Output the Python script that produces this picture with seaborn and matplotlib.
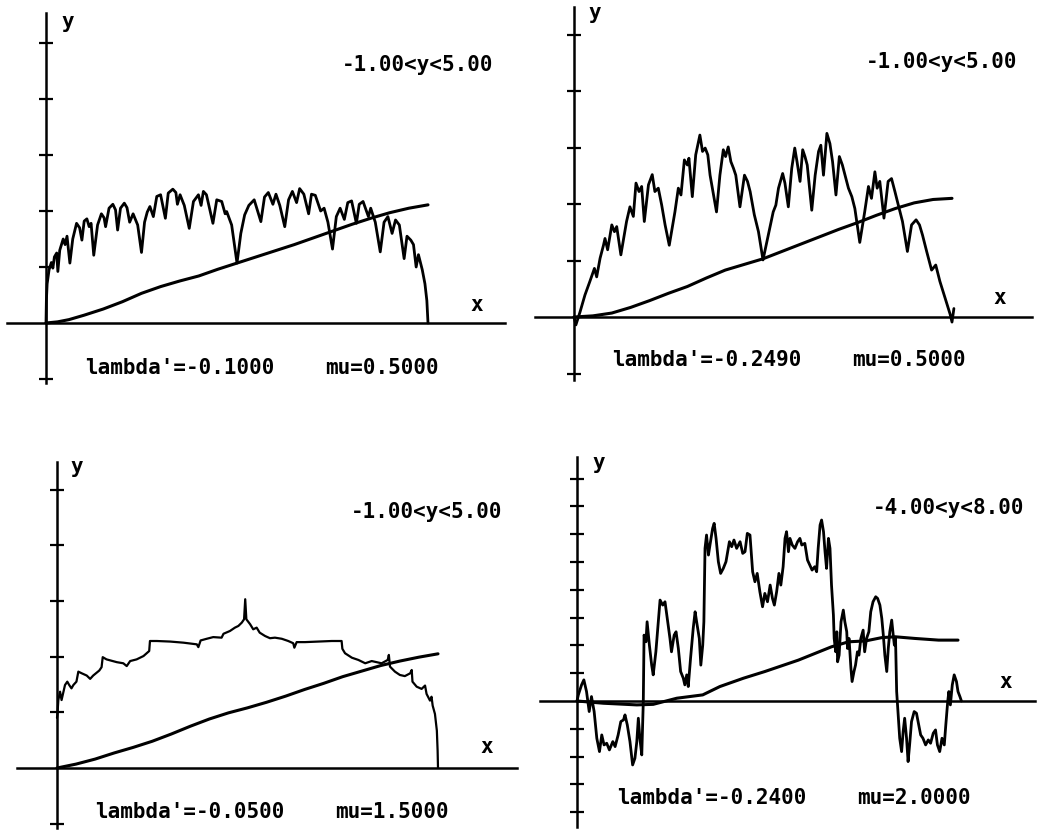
import matplotlib
matplotlib.use("Agg")
import matplotlib.pyplot as plt
import seaborn as sns

# ---------------------------------------------------------------
# values (x in [0, 1], y in plot units)
# ---------------------------------------------------------------

# panel 1: lambda'=-0.1000  mu=0.5000
p1_fx = [0.000, 0.001, 0.003, 0.008, 0.014, 0.018, 0.022, 0.028, 0.031, 0.036,
         0.045, 0.050, 0.055, 0.0625, 0.070, 0.080, 0.088, 0.094, 0.100, 0.107,
         0.113, 0.118, 0.125, 0.135, 0.145, 0.152, 0.156, 0.165, 0.175, 0.182,
         0.1875, 0.195, 0.205, 0.212, 0.219, 0.228, 0.240, 0.250,
         0.258, 0.265, 0.272, 0.281, 0.290, 0.300, 0.3125, 0.320, 0.332, 0.340,
         0.344, 0.351, 0.362, 0.375, 0.386, 0.399, 0.406, 0.412, 0.420, 0.437,
         0.447, 0.460, 0.469, 0.473, 0.486, 0.500,
         0.510, 0.520, 0.531, 0.545, 0.5625, 0.572, 0.582, 0.594, 0.602, 0.612,
         0.625, 0.635, 0.645, 0.656, 0.664, 0.675, 0.6875, 0.695, 0.705, 0.719,
         0.728, 0.738, 0.750, 0.760, 0.770, 0.781, 0.790, 0.800, 0.8125, 0.820,
         0.830, 0.844, 0.850, 0.862, 0.875, 0.885, 0.895, 0.906, 0.915, 0.925,
         0.9375, 0.945, 0.955, 0.962, 0.969, 0.975, 0.985, 0.992, 0.997, 1.000]
p1_fy = [0.00, 0.40, 0.70, 0.95, 1.08, 0.98, 1.18, 1.25, 0.92, 1.30,
         1.50, 1.40, 1.55, 1.07, 1.50, 1.78, 1.70, 1.48, 1.82, 1.86,
         1.72, 1.78, 1.21, 1.75, 1.95, 1.88, 1.72, 2.05, 2.12, 2.02,
         1.66, 2.05, 2.14, 2.06, 1.80, 1.95, 1.75, 1.26,
         1.80, 1.98, 2.08, 1.90, 2.26, 2.29, 1.87, 2.32, 2.39, 2.33,
         2.12, 2.29, 2.10, 1.69, 2.17, 2.29, 2.10, 2.35, 2.29, 1.78,
         2.20, 2.17, 1.95, 1.99, 1.75, 1.07,
         1.60, 1.93, 2.10, 2.20, 1.81, 2.25, 2.33, 2.12, 2.30, 2.10,
         1.72, 2.20, 2.35, 2.15, 2.40, 2.30, 1.95, 2.30, 2.28, 2.00,
         2.05, 1.80, 1.32, 1.90, 2.05, 1.85, 2.15, 2.18, 1.78, 2.12,
         2.17, 1.90, 2.05, 1.80, 1.27, 1.80, 1.90, 1.60, 1.84, 1.75,
         1.15, 1.55, 1.48, 1.40, 1.00, 1.22, 0.95, 0.70, 0.40, 0.00]
p1_sx = [0.00, 0.03, 0.06, 0.10, 0.15, 0.20, 0.25, 0.30, 0.35, 0.40, 0.45,
         0.50, 0.55, 0.60, 0.65, 0.70, 0.75, 0.80, 0.85, 0.90, 0.95, 1.00]
p1_sy = [0.00, 0.02, 0.06, 0.14, 0.25, 0.38, 0.53, 0.65, 0.75, 0.84, 0.96,
         1.07, 1.18, 1.29, 1.40, 1.52, 1.64, 1.76, 1.87, 1.97, 2.05, 2.11]

# panel 2: lambda'=-0.2490  mu=0.5000
p2_fx = [0.000, 0.005, 0.016, 0.029, 0.042, 0.054, 0.060, 0.069, 0.078, 0.082,
         0.089, 0.100, 0.107, 0.113, 0.124, 0.139, 0.148, 0.157, 0.164, 0.172,
         0.179, 0.186, 0.197, 0.207, 0.214, 0.223, 0.232, 0.241, 0.252, 0.267,
         0.276, 0.283, 0.292, 0.300, 0.304, 0.313, 0.322, 0.333, 0.340, 0.347,
         0.354, 0.360, 0.377, 0.386, 0.395, 0.401, 0.408, 0.415, 0.422, 0.428,
         0.439, 0.451, 0.459, 0.466, 0.477, 0.488, 0.500,
         0.514, 0.527, 0.534, 0.541, 0.552, 0.558, 0.567, 0.576, 0.584, 0.590,
         0.598, 0.605, 0.611, 0.617, 0.629, 0.638, 0.647, 0.653, 0.660, 0.669,
         0.677, 0.684, 0.693, 0.702, 0.710, 0.726, 0.735, 0.743, 0.756, 0.769,
         0.779, 0.787, 0.796, 0.802, 0.809, 0.820, 0.831, 0.840, 0.849, 0.858,
         0.869, 0.882, 0.893, 0.905, 0.914, 0.922, 0.933, 0.946, 0.957, 0.968,
         0.982, 0.995, 1.000, 1.005]
p2_fy = [0.00, -0.14, 0.09, 0.39, 0.63, 0.86, 0.71, 1.04, 1.27, 1.39,
         1.19, 1.63, 1.51, 1.60, 1.10, 1.69, 1.95, 1.78, 2.37, 2.22,
         2.31, 1.69, 2.34, 2.52, 2.22, 2.28, 1.98, 1.63, 1.27, 1.86,
         2.28, 2.16, 2.78, 2.69, 2.81, 2.13, 2.87, 3.22, 2.93, 2.99,
         2.87, 2.51, 1.86, 2.51, 2.96, 2.84, 3.01, 2.75, 2.63, 2.51,
         1.95, 2.51, 2.40, 2.22, 1.81, 1.51, 1.01,
         1.45, 1.86, 1.98, 2.28, 2.54, 2.37, 1.95, 2.63, 2.99, 2.75,
         2.40, 2.96, 2.84, 2.69, 1.89, 2.51, 2.93, 3.04, 2.51, 3.25,
         3.07, 2.75, 2.16, 2.84, 2.69, 2.28, 2.13, 1.92, 1.32, 1.86,
         2.31, 2.10, 2.57, 2.28, 2.40, 1.75, 2.40, 2.45, 2.22, 1.98,
         1.69, 1.16, 1.63, 1.72, 1.63, 1.45, 1.16, 0.83, 0.92, 0.63,
         0.33, 0.05, -0.09, 0.15]
p2_sx = [0.00, 0.05, 0.10, 0.15, 0.20, 0.25, 0.30, 0.35, 0.40, 0.45, 0.50,
         0.55, 0.60, 0.65, 0.70, 0.75, 0.80, 0.85, 0.90, 0.95, 1.00]
p2_sy = [0.00, 0.02, 0.07, 0.17, 0.29, 0.42, 0.54, 0.69, 0.83, 0.93, 1.03,
         1.16, 1.29, 1.42, 1.55, 1.67, 1.80, 1.92, 2.02, 2.08, 2.10]

# panel 3: lambda'=-0.0500  mu=1.5000
p3_fx = [0.000, 0.001, 0.0035, 0.008, 0.012, 0.017, 0.021, 0.027, 0.032, 0.038,
         0.043, 0.051, 0.056, 0.065, 0.078, 0.087, 0.095, 0.111, 0.117, 0.120,
         0.130, 0.157, 0.174, 0.183, 0.192, 0.209, 0.227, 0.237, 0.242, 0.244,
         0.262, 0.297, 0.332, 0.367, 0.371, 0.377, 0.393, 0.410, 0.432, 0.437,
         0.454, 0.467, 0.476, 0.485, 0.491, 0.494, 0.497,
         0.507, 0.515, 0.524, 0.532, 0.546, 0.559, 0.572, 0.590, 0.607, 0.620,
         0.623, 0.629, 0.651, 0.686, 0.721, 0.747, 0.749, 0.756, 0.774, 0.791,
         0.809, 0.826, 0.852, 0.868, 0.871, 0.874, 0.887, 0.900, 0.913, 0.927,
         0.931, 0.933, 0.944, 0.957, 0.966, 0.970, 0.979, 0.983, 0.986, 0.992,
         0.997, 0.999, 1.000]
p3_fy = [0.90, 0.95, 1.22, 1.37, 1.22, 1.37, 1.49, 1.55, 1.49, 1.43,
         1.49, 1.55, 1.73, 1.70, 1.66, 1.60, 1.66, 1.75, 1.81, 1.99,
         1.95, 1.90, 1.88, 1.83, 1.92, 1.95, 2.01, 2.07, 2.10, 2.28,
         2.28, 2.27, 2.25, 2.22, 2.17, 2.29, 2.32, 2.35, 2.34, 2.41,
         2.46, 2.52, 2.55, 2.61, 2.67, 3.03, 2.67,
         2.58, 2.49, 2.52, 2.43, 2.37, 2.33, 2.34, 2.32, 2.28, 2.24,
         2.16, 2.26, 2.26, 2.27, 2.28, 2.28, 2.14, 2.06, 1.98, 1.94,
         1.88, 1.92, 1.88, 1.94, 2.03, 1.82, 1.73, 1.67, 1.65, 1.70,
         1.76, 1.55, 1.46, 1.42, 1.48, 1.33, 1.21, 1.28, 1.12, 0.97,
         0.67, 0.31, 0.00]
p3_sx = [0.00, 0.05, 0.10, 0.15, 0.20, 0.25, 0.30, 0.35, 0.40, 0.45, 0.50,
         0.55, 0.60, 0.65, 0.70, 0.75, 0.80, 0.85, 0.90, 0.95, 1.00]
p3_sy = [0.00, 0.07, 0.16, 0.27, 0.37, 0.48, 0.61, 0.75, 0.88, 0.99, 1.08,
         1.18, 1.29, 1.41, 1.52, 1.64, 1.74, 1.84, 1.92, 1.99, 2.05]

# panel 4: lambda'=-0.2400  mu=2.0000
p4_fx = [0.000, 0.0035, 0.012, 0.018, 0.025, 0.032, 0.038, 0.045, 0.052, 0.059,
         0.065, 0.071, 0.078, 0.085, 0.094, 0.100, 0.108, 0.115, 0.122, 0.126,
         0.132, 0.139, 0.146, 0.152, 0.157, 0.161, 0.165, 0.170, 0.174, 0.176,
         0.181, 0.184, 0.190, 0.196, 0.200, 0.207, 0.215, 0.218, 0.225, 0.231,
         0.237, 0.244, 0.248, 0.255, 0.260, 0.266, 0.272, 0.279, 0.283, 0.288,
         0.292, 0.298, 0.305, 0.310, 0.314, 0.321, 0.325, 0.330, 0.333, 0.336,
         0.340, 0.345, 0.349, 0.356, 0.360, 0.365, 0.371, 0.377, 0.384, 0.391,
         0.400, 0.406, 0.412, 0.419, 0.428, 0.435, 0.441, 0.447, 0.454, 0.461,
         0.467, 0.473, 0.480, 0.487, 0.493,
         0.500, 0.507, 0.513, 0.518, 0.524, 0.530, 0.535, 0.541, 0.546, 0.550,
         0.555, 0.559, 0.565, 0.572, 0.579, 0.585, 0.590, 0.598, 0.605, 0.611,
         0.617, 0.624, 0.629, 0.633, 0.638, 0.642, 0.647, 0.651, 0.655, 0.660,
         0.664, 0.668, 0.673, 0.675, 0.679, 0.682, 0.684, 0.688, 0.693, 0.699,
         0.703, 0.708, 0.710, 0.714, 0.719, 0.722, 0.727, 0.731, 0.736, 0.740,
         0.745, 0.751, 0.755, 0.760, 0.766, 0.771, 0.777, 0.784, 0.789, 0.795,
         0.800, 0.804, 0.808, 0.813, 0.817, 0.821, 0.826, 0.830, 0.833, 0.836,
         0.839, 0.843, 0.847, 0.852, 0.856, 0.860, 0.865, 0.869, 0.873, 0.878,
         0.885, 0.891, 0.897, 0.902, 0.908, 0.915, 0.922, 0.928, 0.935, 0.941,
         0.946, 0.952, 0.958, 0.964, 0.968, 0.973, 0.976, 0.980, 0.985, 0.990,
         0.996, 1.000, 1.005, 1.009]
p4_fy = [0.00, 0.22, 0.58, 0.76, 0.34, -0.38, 0.16, -0.38, -1.34, -1.82,
         -1.22, -1.58, -1.52, -1.76, -1.46, -1.64, -1.22, -0.74, -0.68, -0.50,
         -0.86, -1.46, -2.30, -2.06, -1.46, -0.62, -1.34, -1.94, -0.02, 2.37,
         2.13, 2.85, 2.01, 1.29, 0.94, 1.77, 3.09, 3.63, 3.45, 3.57,
         2.97, 2.25, 1.77, 2.37, 2.49, 1.89, 1.06, 0.82, 0.58, 0.94,
         0.52, 1.53, 2.61, 3.21, 2.85, 2.25, 1.29, 2.01, 2.85, 5.49,
         5.97, 5.25, 5.61, 6.21, 6.39, 5.85, 5.01, 4.59, 4.77, 5.01,
         5.73, 5.55, 5.79, 5.49, 5.73, 5.31, 5.37, 6.03, 5.97, 4.65,
         4.29, 4.59, 3.93, 3.39, 3.87,
         3.57, 4.17, 3.69, 3.45, 3.93, 4.59, 4.17, 4.83, 5.85, 6.09,
         5.37, 5.85, 5.61, 5.49, 5.73, 5.85, 5.61, 5.67, 5.07, 4.89,
         4.71, 4.83, 4.65, 5.49, 6.33, 6.51, 6.09, 5.37, 4.77, 5.85,
         5.49, 4.17, 3.09, 2.25, 1.77, 2.49, 1.41, 1.65, 2.85, 3.27,
         2.85, 2.49, 1.89, 2.25, 1.17, 0.70, 1.06, 1.29, 1.77, 1.65,
         2.25, 2.55, 1.77, 2.25, 2.49, 3.21, 3.57, 3.75, 3.69, 3.45,
         2.97, 2.37, 1.65, 1.06, 1.89, 2.49, 2.91, 2.37, 2.01, 2.25,
         0.34, -0.50, -1.34, -1.82, -1.10, -0.62, -1.34, -2.18, -1.58, -0.74,
         -0.38, -0.44, -0.86, -1.22, -1.34, -1.58, -1.40, -1.52, -1.16, -1.04,
         -1.58, -1.82, -1.34, -1.58, -0.86, -0.02, 0.34, -0.14, 0.58, 0.94,
         0.70, 0.34, 0.16, 0.00]
p4_sx = [0.000, 0.069, 0.157, 0.200, 0.262, 0.330, 0.375, 0.437, 0.493,
         0.581, 0.668, 0.713, 0.757, 0.800, 0.835, 0.887, 0.949, 1.000]
p4_sy = [0.00, -0.08, -0.14, -0.12, 0.10, 0.22, 0.52, 0.82, 1.06,
         1.47, 1.95, 2.13, 2.16, 2.28, 2.31, 2.25, 2.19, 2.19]

fractal_x = [p1_fx, p2_fx, p3_fx, p4_fx]
fractal_y = [p1_fy, p2_fy, p3_fy, p4_fy]
smooth_x = [p1_sx, p2_sx, p3_sx, p4_sx]
smooth_y = [p1_sy, p2_sy, p3_sy, p4_sy]

range_labels = ["-1.00<y<5.00", "-1.00<y<5.00", "-1.00<y<5.00", "-4.00<y<8.00"]
lambda_labels = ["lambda'=-0.1000", "lambda'=-0.2490", "lambda'=-0.0500", "lambda'=-0.2400"]
mu_labels = ["mu=0.5000", "mu=0.5000", "mu=1.5000", "mu=2.0000"]
y_ticks = [[-1, 1, 2, 3, 4, 5], [-1, 1, 2, 3, 4, 5], [-1, 1, 2, 3, 4, 5],
           [-4, -3, -2, -1, 1, 2, 3, 4, 5, 6, 7, 8]]

# ---------------------------------------------------------------
# layout in image pixels: x-axis line span, y-axis line span, origin,
# pixels per unit, and where the texts sit
# ---------------------------------------------------------------
W, H = 1046, 833
layout = [
    dict(xl=(7, 505), yl=(13, 383), org=(46, 323), ux=382, uy=56.0,
         ylab=(68, 22), xlab=(477, 305), rng=(418, 65), lam=(85, 368), mu=(325, 368)),
    dict(xl=(535, 1032), yl=(7, 380), org=(574, 317), ux=378, uy=56.5,
         ylab=(595, 13), xlab=(1000, 298), rng=(942, 62), lam=(612, 360), mu=(852, 360)),
    dict(xl=(17, 517), yl=(462, 828), org=(57, 768), ux=381, uy=55.7,
         ylab=(77, 467), xlab=(487, 747), rng=(427, 512), lam=(95, 812), mu=(335, 812)),
    dict(xl=(540, 1035), yl=(457, 827), org=(577, 701), ux=381, uy=27.8,
         ylab=(599, 463), xlab=(1006, 682), rng=(949, 508), lam=(617, 798), mu=(857, 798)),
]

sns.set_style("white")
plt.rcParams['font.family'] = ['DejaVu Sans Mono']

fig = plt.figure(figsize=(W / 100, H / 100), dpi=100)
FS = 15


def ftext(px, py, s, ha='center'):
    fig.text(px / W, 1 - py / H, s, ha=ha, va='center', fontsize=FS,
             fontweight='bold', color='black')


for i, L in enumerate(layout):
    x0, x1 = L['xl']
    y0, y1 = L['yl']
    ox, oy = L['org']
    ax = fig.add_axes([x0 / W, 1 - y1 / H, (x1 - x0) / W, (y1 - y0) / H])
    ax.patch.set_alpha(0)

    lw_f = 1.6 if i == 2 else 2.0
    sns.lineplot(x=fractal_x[i], y=fractal_y[i], ax=ax, sort=False, estimator=None,
                 color='black', linewidth=lw_f)
    sns.lineplot(x=smooth_x[i], y=smooth_y[i], ax=ax, sort=False, estimator=None,
                 color='black', linewidth=2.2)

    ax.set_xlim((x0 - ox) / L['ux'], (x1 - ox) / L['ux'])
    ax.set_ylim((oy - y1) / L['uy'], (oy - y0) / L['uy'])

    for side in ['top', 'right']:
        ax.spines[side].set_visible(False)
    for side in ['left', 'bottom']:
        ax.spines[side].set_position(('data', 0))
        ax.spines[side].set_linewidth(1.8)
        ax.spines[side].set_color('black')

    ax.set_xticks([])
    ax.set_yticks(y_ticks[i])
    ax.set_yticklabels([])
    ax.tick_params(axis='y', direction='inout', length=10, width=1.6,
                   color='black', left=True)
    ax.set_xlabel('')
    ax.set_ylabel('')

    ftext(*L['ylab'], 'y')
    ftext(*L['xlab'], 'x')
    ftext(*L['rng'], range_labels[i])
    ftext(*L['lam'], lambda_labels[i], ha='left')
    ftext(*L['mu'], mu_labels[i], ha='left')

fig.savefig("out.png", dpi=100, facecolor='white')
